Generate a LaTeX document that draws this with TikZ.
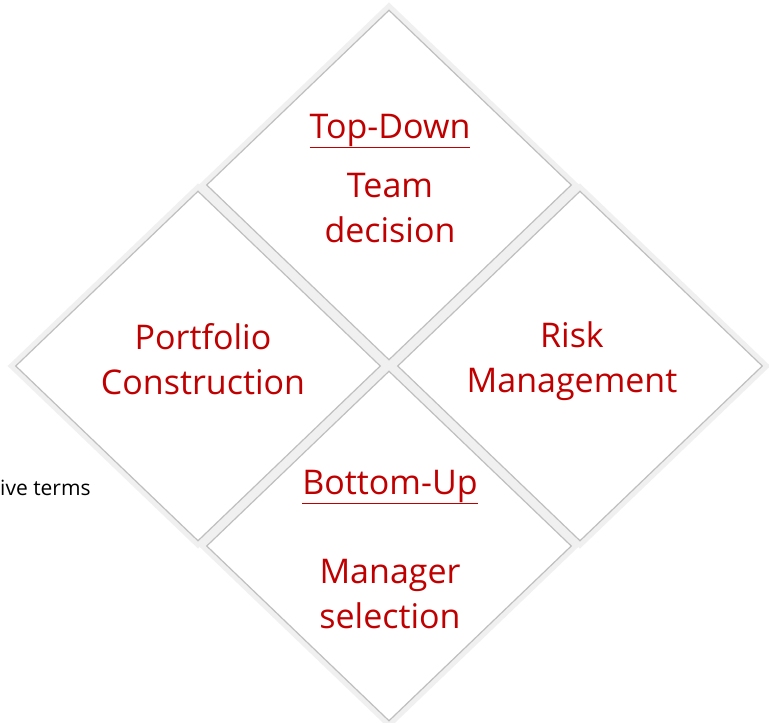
\documentclass[tikz,border=0pt]{standalone}
\usepackage{fontspec}
\setmainfont{Open Sans}
\usetikzlibrary{shapes.geometric,backgrounds}
\definecolor{boxred}{RGB}{192,0,0}
\tikzset{
  quad/.style={diamond, draw=black!25, line width=1.2pt, fill=white,
    minimum width=365pt, minimum height=350pt, inner sep=0pt},
  glow/.style={line width=10pt, draw=black!6, line join=miter},
  bigtext/.style={text=boxred, font=\fontsize{34}{45}\selectfont, align=center},
}
\begin{document}
\begin{tikzpicture}[x=1pt, y=-1pt]
\useasboundingbox (0,0) rectangle (769,723);
\node[quad] (D_top) at (389,185) {};
\node[quad] (D_left) at (198,366) {};
\node[quad] (D_right) at (580,366) {};
\node[quad] (D_bot) at (389,546) {};
\begin{scope}[on background layer]
\fill[white] (0,0) rectangle (769,723);
\foreach \n in {D_top,D_left,D_right,D_bot}
  \draw[glow] (\n.north) -- (\n.east) -- (\n.south) -- (\n.west) -- cycle;
\end{scope}
\node[bigtext] (T_top_h) at (390,131) {\underline{Top-Down}};
\node[bigtext] (T_top) at (390,208) {Team\\decision};
\node[bigtext] (T_left) at (203,359) {Portfolio\\Construction};
\node[bigtext] (T_right) at (572,361) {Risk\\Management};
\node[bigtext] (T_bot_h) at (390,487) {\underline{Bottom-Up}};
\node[bigtext] (T_bot) at (390,594) {Manager\\selection};
\node[anchor=west, inner sep=0pt, font=\fontsize{21}{24}\selectfont] (T_side) at (0,488) {ive terms};
\end{tikzpicture}
\end{document}
